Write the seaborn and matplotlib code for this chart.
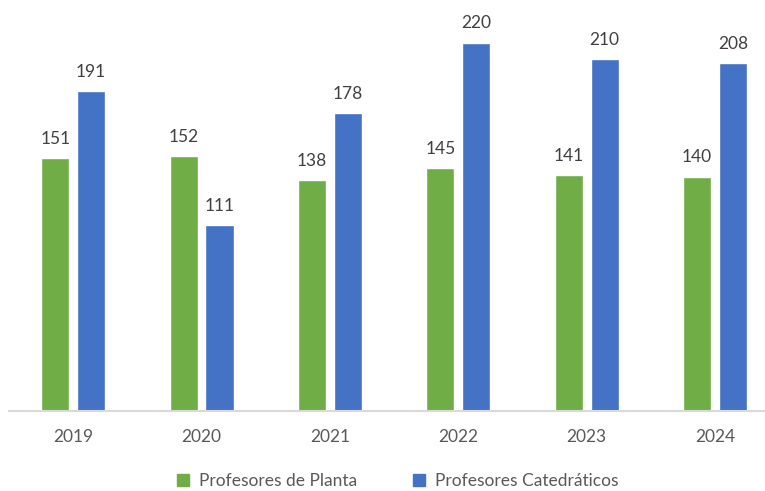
import matplotlib.pyplot as plt
import pandas as pd
import seaborn as sns
from matplotlib.lines import Line2D

years = ["2019", "2020", "2021", "2022", "2023", "2024"]
planta = [151, 152, 138, 145, 141, 140]
catedraticos = [191, 111, 178, 220, 210, 208]
series = ["Profesores de Planta", "Profesores Catedráticos"]
colors = ["#70AD47", "#4472C4"]

df = pd.DataFrame({
    "year": years * 2,
    "value": planta + catedraticos,
    "serie": [series[0]] * len(years) + [series[1]] * len(years),
})

sns.set_theme(style="white")
plt.rcParams["font.family"] = ["Lato", "DejaVu Sans"]

fig = plt.figure(figsize=(7.65, 4.91), dpi=100)
ax = fig.add_axes([9 / 765, 1 - 411 / 491, 1 - 9 / 765, 411 / 491])
sns.barplot(data=df, x="year", y="value", hue="serie", hue_order=series,
            palette=colors, width=0.56, gap=0.22, saturation=1, ax=ax,
            legend=False)

for cont in ax.containers:
    ax.bar_label(cont, padding=8, fontsize=12.5, color="#404040")

ax.set_xlim(-0.5, 5.39)
ax.set_ylim(0, 245.4)
ax.set_xlabel("")
ax.set_ylabel("")
ax.set_yticks([])
for s in ["top", "right", "left"]:
    ax.spines[s].set_visible(False)
ax.spines["bottom"].set_color("#D9D9D9")
ax.spines["bottom"].set_linewidth(1.5)
ax.tick_params(axis="x", length=0, pad=13, labelsize=12.5, labelcolor="#595959")

handles = [Line2D([], [], marker="s", linestyle="", markersize=9, color=c) for c in colors]
fig.legend(handles, series, loc="center", bbox_to_anchor=(392 / 765, 1 - 481 / 491),
           ncol=2, frameon=False, fontsize=12.5, labelcolor="#595959",
           handletextpad=-0.1, columnspacing=2.6)

fig.savefig("out.png", dpi=100)
